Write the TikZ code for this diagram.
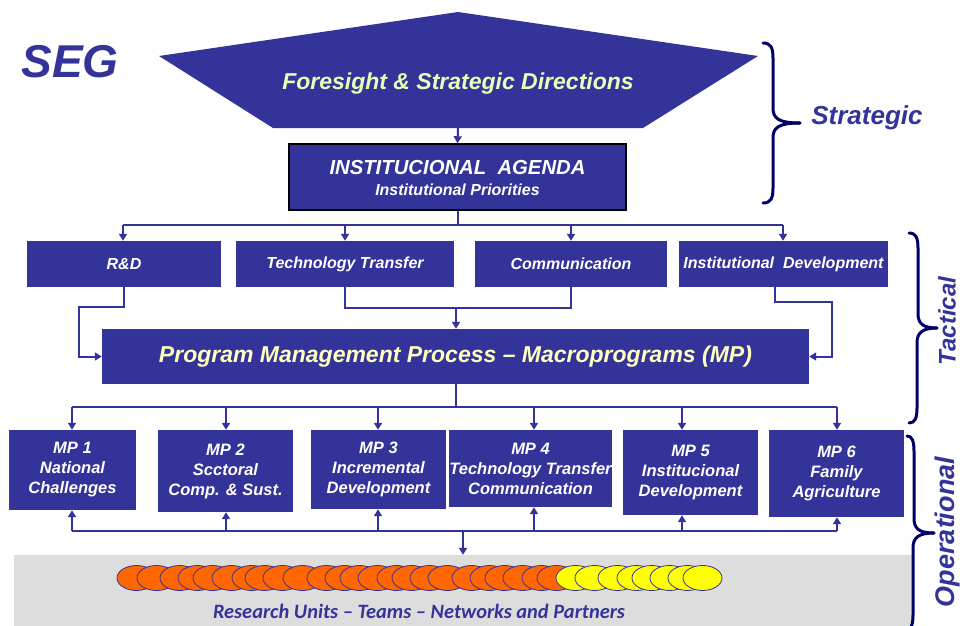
\documentclass[tikz,border=0pt]{standalone}
\usepackage{fontspec}
\setmainfont{Liberation Sans}
\newfontfamily\calibfont{Carlito}
\usetikzlibrary{arrows.meta,calc}
\definecolor{boxblue}{HTML}{333399}
\definecolor{bracenavy}{HTML}{000066}
\definecolor{palegreen}{HTML}{E8FFB8}
\definecolor{paleyellow}{HTML}{FFFFC0}
\definecolor{bandgray}{HTML}{DDDDDD}
\definecolor{orng}{HTML}{FF6600}
\definecolor{yell}{HTML}{FFFF00}
\begin{document}
\begin{tikzpicture}[x=1pt,y=-1pt,
  box/.style={fill=boxblue, draw=none, inner sep=0pt, text=white, font=\bfseries\itshape, align=center},
  tbox/.style={box, minimum height=46pt, font=\fontsize{16}{19}\selectfont\bfseries\itshape},
  mpbox/.style={box, font=\fontsize{16.5}{20}\selectfont\bfseries\itshape},
  ln/.style={draw=boxblue, line width=2pt},
  arr/.style={ln, -{Triangle[width=8pt,length=7pt]}},
  bracestyle/.style={draw=bracenavy, line width=3pt, line cap=round, line join=round},
  sidelabel/.style={text=boxblue, font=\bfseries\itshape, inner sep=0pt}]
\useasboundingbox (0,0) rectangle (964,626);

% SEG title
\node[sidelabel, font=\fontsize{46}{50}\selectfont\bfseries\itshape] (seg) at (70,62) {SEG};

% Foresight shape
\fill[boxblue] (159,56) -- (458,12) -- (758,56) -- (643,128) -- (273,128) -- cycle;
\node[text=palegreen, font=\fontsize{23}{27}\selectfont\bfseries\itshape, inner sep=0pt] (fsd) at (458,84) {Foresight \& Strategic Directions};
\coordinate (fsdbot) at (458,128);

% Agenda
\node[box, draw=black, line width=1.5pt, minimum width=337pt, minimum height=66pt] (agenda) at (457.5,177) {};
\node[text=white, inner sep=0pt, font=\fontsize{20.3}{23}\selectfont\bfseries\itshape] (agtitle) at (457.5,168) {INSTITUCIONAL~ AGENDA};
\node[text=white, inner sep=0pt, font=\fontsize{16}{19}\selectfont\bfseries\itshape] (agsub) at (457.5,190) {Institutional Priorities};
\draw[arr] (fsdbot) -- (agenda.north);

% Tactical boxes
\node[tbox, minimum width=194pt] (rd) at (124,264) {R\&D};
\node[tbox, minimum width=218pt] (tt) at (345,264) {Technology Transfer};
\node[tbox, minimum width=192pt] (comm) at (571,264) {Communication};
\node[tbox, minimum width=209pt] (idv) at (783.5,264) {Institutional~ Development};

\coordinate (t1) at (123,225);
\coordinate (t2) at (345,225);
\coordinate (t3) at (571,225);
\coordinate (t4) at (783,225);
\draw[ln] (agenda.south) -- (agenda.south |- t1);
\draw[ln] (t1) -- (t4);
\draw[arr] (t1) -- (t1 |- rd.north);
\draw[arr] (t2) -- (t2 |- tt.north);
\draw[arr] (t3) -- (t3 |- comm.north);
\draw[arr] (t4) -- (t4 |- idv.north);

% PMP
\node[box, minimum width=707pt, minimum height=55pt, text=paleyellow, font=\fontsize{23}{27}\selectfont\bfseries\itshape] (pmp) at (455.5,356.5)
  {Program Management Process \textendash{} Macroprograms (MP)};

\coordinate (rdL) at (79,307);
\draw[arr] (rd.south) |- (rdL) |- (pmp.west);
\coordinate (mj) at (456,308);
\draw[ln] (tt.south) -- (tt.south |- mj) -- (comm.south |- mj) -- (comm.south);
\draw[arr] (mj) -- (mj |- pmp.north);
\coordinate (idvout) at (775,287);
\coordinate (idR) at (832,302);
\draw[arr] (idvout) |- (idR) |- (pmp.east);

% MP boxes
\node[mpbox, minimum width=127pt, minimum height=80pt] (mp1) at (72.5,470) {MP 1\\National\\Challenges};
\node[mpbox, minimum width=135pt, minimum height=82pt] (mp2) at (225.5,471) {MP 2\\Scctoral\\Comp. \& Sust.};
\node[mpbox, minimum width=135pt, minimum height=79pt] (mp3) at (378.5,469.5) {MP 3\\Incremental\\Development};
\node[mpbox, minimum width=159pt, minimum height=77pt] (mp4) at (530.5,468.5) {MP 4\\Technology Transfer\\Communication};
\node[mpbox, minimum width=135pt, minimum height=85pt] (mp5) at (690.5,472.5) {MP 5\\Institucional\\Development};
\node[mpbox, minimum width=135pt, minimum height=87pt] (mp6) at (836.5,473.5) {MP 6\\Family\\Agriculture};

\coordinate (m1) at (72,407);
\coordinate (m2) at (226,407);
\coordinate (m3) at (378,407);
\coordinate (m4) at (534,407);
\coordinate (m5) at (682,407);
\coordinate (m6) at (837,407);
\draw[ln] (pmp.south) -- (pmp.south |- m1);
\draw[ln] (m1) -- (m6);
\foreach \i in {1,...,6} \draw[arr] (m\i) -- (m\i |- mp\i.north);

\coordinate (f1) at (72,531);
\coordinate (f2) at (226,531);
\coordinate (f3) at (378,531);
\coordinate (f4) at (534,531);
\coordinate (f5) at (682,531);
\coordinate (f6) at (837,531);
\draw[ln] (f1) -- (f6);
\foreach \i in {1,...,6} \draw[arr] (f\i) -- (f\i |- mp\i.south);

% Research band
\node[fill=bandgray, draw=none, inner sep=0pt, minimum width=899pt, minimum height=75pt] (band) at (463.5,592.5) {};
\coordinate (fd) at (463,531);
\draw[arr] (fd) -- (fd |- band.north);

\foreach \x in {117,137,160,178,193,212,232,245,263,283,307,325,340,358,377,392,410,428,452,470,485,503,522,537}
  \filldraw[fill=orng, draw=boxblue, line width=0.8pt] (\x+19.5,578) ellipse [x radius=19.5pt, y radius=12.5pt];
\foreach \x in {556,575,598,617,632,650,668,683}
  \filldraw[fill=yell, draw=boxblue, line width=0.8pt] (\x+19.5,578) ellipse [x radius=19.5pt, y radius=12.5pt];

\node[text=boxblue, font=\calibfont\fontsize{20.4}{24}\selectfont\bfseries\itshape, inner sep=0pt] (research) at (419,611)
  {Research Units \textendash{} Teams \textendash{} Networks and Partners};

% Braces
\draw[bracestyle] (763,43) .. controls (771,43) and (773,48) .. (773,58) -- (773,108)
  .. controls (773,118) and (778,123) .. (800,123);
\draw[bracestyle] (800,123) .. controls (778,123) and (773,128) .. (773,138) -- (773,188)
  .. controls (773,198) and (771,203) .. (763,203);
\node[sidelabel, font=\fontsize{26}{30}\selectfont\bfseries\itshape] (strat) at (867,118) {Strategic};

\draw[bracestyle] (909,233) .. controls (916,233) and (918,238) .. (918,248) -- (918,313)
  .. controls (918,323) and (922,328) .. (937,328);
\draw[bracestyle] (937,328) .. controls (922,328) and (917,333) .. (917,343) -- (917,408)
  .. controls (917,418) and (915,423) .. (909,423);
\node[sidelabel, rotate=90, font=\fontsize{24}{28}\selectfont\bfseries\itshape] (tact) at (947,321) {Tactical};

\draw[bracestyle] (907,436) .. controls (912,436) and (914,441) .. (914,451) -- (914,518)
  .. controls (914,528) and (918,533) .. (934,533);
\draw[bracestyle] (934,533) .. controls (918,533) and (913,538) .. (913,548) -- (913,615)
  .. controls (913,625) and (911,630) .. (906,630);
\node[sidelabel, rotate=90, font=\fontsize{27}{31}\selectfont\bfseries\itshape] (oper) at (948,532) {Operational};
\end{tikzpicture}
\end{document}
